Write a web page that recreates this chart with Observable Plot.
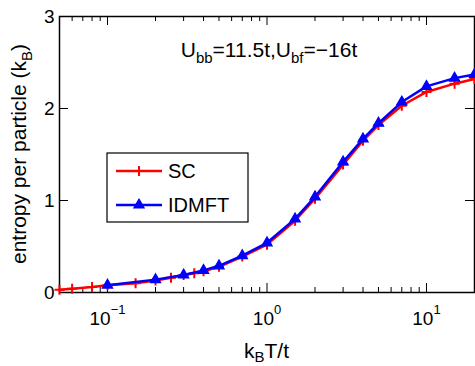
<!DOCTYPE html>
<html>
<head>
<meta charset="utf-8">
<script src="https://cdn.jsdelivr.net/npm/d3@7"></script>
<script src="https://cdn.jsdelivr.net/npm/@observablehq/plot@0.6"></script>
<style>
  html, body { margin: 0; padding: 0; background: #fff; }
  svg { display: block; }
</style>
</head>
<body>
<div id="chart"></div>
<script>
// ---- data ----
const tempSC = [0.05, 0.06, 0.08, 0.1, 0.15, 0.2, 0.25, 0.3, 0.35, 0.4, 0.5, 0.7, 1, 1.5, 2, 3, 4, 5, 7, 10, 15, 20];
const entropySC = [0.03, 0.04, 0.06, 0.08, 0.10, 0.13, 0.16, 0.19, 0.21, 0.23, 0.28, 0.39, 0.52, 0.78, 1.02, 1.39, 1.65, 1.82, 2.03, 2.18, 2.27, 2.32];
const tempIDMFT = [0.1, 0.2, 0.3, 0.4, 0.5, 0.7, 1, 1.5, 2, 3, 4, 5, 7, 10, 15, 20];
const entropyIDMFT = [0.08, 0.14, 0.19, 0.24, 0.29, 0.40, 0.54, 0.80, 1.04, 1.42, 1.67, 1.84, 2.07, 2.24, 2.33, 2.37];
const seriesNames = ["SC", "IDMFT"];
const yTicks = [0, 1, 2, 3];
const xMajorTicks = [0.1, 1, 10];
const xExponents = ["\u22121", "0", "1"];
const xMinorTicks = [0.06, 0.07, 0.08, 0.09, 0.2, 0.3, 0.4, 0.5, 0.6, 0.7, 0.8, 0.9, 2, 3, 4, 5, 6, 7, 8, 9];
const xDomain = [0.05, 20];
const yDomain = [0, 3];

const sc = tempSC.map((t, i) => ({t, s: entropySC[i]}));
const idmft = tempIDMFT.map((t, i) => ({t, s: entropyIDMFT[i]}));

// ---- layout ----
const W = 475, H = 366;
const mL = 59, mR = 1, mT = 16, mB = 74;
const innerW = W - mL - mR, innerH = H - mT - mB;
const major = 9, minor = 5;
const FONT = "'Liberation Sans', Arial, Helvetica, sans-serif";

const plusSymbol = {
  draw(ctx, size) {
    const r = Math.sqrt(size / Math.PI);
    ctx.moveTo(-r, 0); ctx.lineTo(r, 0);
    ctx.moveTo(0, -r); ctx.lineTo(0, r);
  }
};

const plot = Plot.plot({
  width: W, height: H,
  marginLeft: mL, marginRight: mR, marginTop: mT, marginBottom: mB,
  style: {fontFamily: FONT, fontSize: "19px", background: "#fff", color: "#000"},
  x: {type: "log", domain: xDomain},
  y: {domain: yDomain},
  marks: [
    // inward ticks: bottom / top
    Plot.tickX(xMajorTicks, {x: d => d, insetTop: innerH - major, stroke: "black", strokeWidth: 1}),
    Plot.tickX(xMajorTicks, {x: d => d, insetBottom: innerH - major, stroke: "black", strokeWidth: 1}),
    Plot.tickX(xMinorTicks, {x: d => d, insetTop: innerH - minor, stroke: "black", strokeWidth: 1}),
    Plot.tickX(xMinorTicks, {x: d => d, insetBottom: innerH - minor, stroke: "black", strokeWidth: 1}),
    // inward ticks: left / right
    Plot.tickY(yTicks, {y: d => d, insetRight: innerW - major, stroke: "black", strokeWidth: 1}),
    Plot.tickY(yTicks, {y: d => d, insetLeft: innerW - major, stroke: "black", strokeWidth: 1}),
    Plot.axisY({ticks: yTicks, tickSize: 0, tickPadding: 5, label: null, tickFormat: d => String(d), fontSize: 19}),
    Plot.axisX({ticks: xMajorTicks, tickSize: 0, tickPadding: 19, label: null, tickFormat: () => "10", fontSize: 19}),
    Plot.frame({stroke: "black", strokeWidth: 1.5}),
    // series
    Plot.line(sc, {x: "t", y: "s", stroke: "#ff0000", strokeWidth: 2.5}),
    Plot.dot(sc, {x: "t", y: "s", symbol: plusSymbol, r: 5, stroke: "#ff0000", fill: "none", strokeWidth: 2}),
    Plot.line(idmft, {x: "t", y: "s", stroke: "#0000ff", strokeWidth: 2.5}),
    Plot.dot(idmft, {x: "t", y: "s", symbol: "triangle", r: 3.8, stroke: "#0000ff", fill: "#0000ff", strokeWidth: 1.2})
  ]
});

document.getElementById("chart").appendChild(plot);

const svg = d3.select(plot);
const xs = plot.scale("x"), ys = plot.scale("y");

// superscript exponents on x tick labels
svg.selectAll('g[aria-label="x-axis tick label"] text').each(function(d, i) {
  const t = d3.select(this);
  t.append("tspan").attr("dy", "-11").attr("font-size", 13).text(xExponents[i] ?? "");
});

function richText(parent, parts, size, subSize, subShift = 6) {
  const t = parent.append("text").attr("font-family", FONT).attr("font-size", size)
    .attr("fill", "black").attr("text-anchor", "start");
  let shift = 0;
  for (const [str, sub] of parts) {
    const target = sub ? subShift : 0;
    const sp = t.append("tspan").attr("dy", target - shift).text(str);
    if (sub) sp.attr("font-size", subSize);
    shift = target;
  }
  return t;
}

// x label
richText(svg, [["k", false], ["B", true], ["T/t", false]], 21, 15, 4)
  .attr("x", xs.apply(1)).attr("y", 358).attr("text-anchor", "middle");

// y label
richText(svg.append("g").attr("transform", `translate(26,${(ys.apply(0) + ys.apply(3)) / 2}) rotate(-90)`),
  [["entropy per particle (k", false], ["B", true], [")", false]], 21, 15)
  .attr("x", 0).attr("y", 0).attr("text-anchor", "middle");

// annotation
richText(svg, [["U", false], ["bb", true], ["=11.5t,U", false], ["bf", true], ["=\u221216t", false]], 21, 15)
  .attr("x", xs.apply(0.29)).attr("y", ys.apply(2.55));

// legend
const lg = svg.append("g");
const bx = 107, by = 153, bw = 141, bh = 69;
lg.append("rect").attr("x", bx).attr("y", by).attr("width", bw).attr("height", bh)
  .attr("fill", "white").attr("stroke", "black").attr("stroke-width", 1.2);
const rows = [
  {name: seriesNames[0], color: "#ff0000", y: by + 18, sym: "plus"},
  {name: seriesNames[1], color: "#0000ff", y: by + 52, sym: "tri"}
];
for (const r of rows) {
  lg.append("line").attr("x1", bx + 9).attr("x2", bx + 55).attr("y1", r.y).attr("y2", r.y)
    .attr("stroke", r.color).attr("stroke-width", 2.5);
  const cx = bx + 32;
  if (r.sym === "plus") {
    lg.append("path").attr("d", `M${cx - 5},${r.y}H${cx + 5}M${cx},${r.y - 5}V${r.y + 5}`)
      .attr("stroke", r.color).attr("stroke-width", 2).attr("fill", "none");
  } else {
    lg.append("path").attr("d", d3.symbol(d3.symbolTriangle, Math.PI * 3.8 * 3.8)())
      .attr("transform", `translate(${cx},${r.y})`)
      .attr("fill", r.color).attr("stroke", r.color).attr("stroke-width", 1.2);
  }
  lg.append("text").attr("x", bx + 61).attr("y", r.y + 7).attr("font-family", FONT)
    .attr("font-size", 20).attr("fill", "black").attr("text-anchor", "start").text(r.name);
}
</script>
</body>
</html>
